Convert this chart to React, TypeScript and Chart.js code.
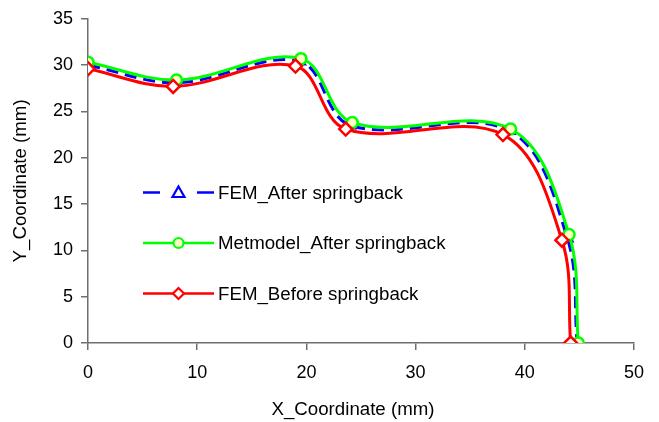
import React, { useEffect, useRef } from "react";
import { Chart, registerables } from "chart.js";

Chart.register(...registerables);

// Data
const xFemAfter = [0, 8.1, 19.4, 24.0, 38.6, 43.9, 44.8];
const yFemAfter = [30.0, 28.1, 30.4, 23.5, 22.9, 11.3, 0];

const xMetmodel = [0, 8.1, 19.5, 24.2, 38.7, 44.05, 44.9];
const yMetmodel = [30.3, 28.4, 30.7, 23.8, 23.1, 11.7, 0];

const xFemBefore = [0, 7.8, 19.0, 23.6, 38.0, 43.4, 44.2];
const yFemBefore = [29.6, 27.7, 29.9, 23.1, 22.5, 11.1, 0];

const seriesNames = ["FEM_After springback", "Metmodel_After springback", "FEM_Before springback"];
const xTitle = "X_Coordinate (mm)";
const yTitle = "Y_Coordinate (mm)";

const FONT = "Liberation Sans, Arial, Helvetica, sans-serif";
const TENSION = 0.36;

const zip = (xs: number[], ys: number[]) => xs.map((x, i) => ({ x, y: ys[i] }));

const overlayPlugin = {
  id: "overlay",
  afterDraw(chart: any) {
    const ctx = chart.ctx as CanvasRenderingContext2D;
    const area = chart.chartArea;
    ctx.save();
    ctx.fillStyle = "#000";
    ctx.font = `18.7px ${FONT}`;
    // axis titles
    ctx.textAlign = "center";
    ctx.textBaseline = "middle";
    ctx.fillText(xTitle, (area.left + area.right) / 2 - 8, 410);
    ctx.save();
    ctx.translate(21, (area.top + area.bottom) / 2);
    ctx.rotate(-Math.PI / 2);
    ctx.fillText(yTitle, 0, 0);
    ctx.restore();

    // legend
    const items = [
      { y: 192.5, color: "#0000ff", dash: [12, 7], shape: "tri", fill: "#ffffff" },
      { y: 243, color: "#00ff00", dash: [], shape: "circle", fill: "#ffffc8" },
      { y: 293.5, color: "#ff0000", dash: [], shape: "diamond", fill: "#ffffff" },
    ];
    const x0 = 143, x1 = 214, xm = 178.5;
    items.forEach((it, i) => {
      ctx.strokeStyle = it.color;
      ctx.lineWidth = 2.5;
      ctx.setLineDash([]);
      if (it.dash.length) {
        ctx.beginPath();
        ctx.moveTo(x0, it.y);
        ctx.lineTo(x0 + 17, it.y);
        ctx.moveTo(x1 - 17, it.y);
        ctx.lineTo(x1, it.y);
        ctx.stroke();
      } else {
        ctx.beginPath();
        ctx.moveTo(x0, it.y);
        ctx.lineTo(x1, it.y);
        ctx.stroke();
      }
      ctx.fillStyle = it.fill;
      ctx.lineWidth = 2.2;
      ctx.beginPath();
      if (it.shape === "circle") {
        ctx.arc(xm, it.y, 5, 0, Math.PI * 2);
      } else if (it.shape === "diamond") {
        ctx.moveTo(xm, it.y - 5.5);
        ctx.lineTo(xm + 5.5, it.y);
        ctx.lineTo(xm, it.y + 5.5);
        ctx.lineTo(xm - 5.5, it.y);
        ctx.closePath();
      } else {
        ctx.moveTo(xm, it.y - 6);
        ctx.lineTo(xm + 6, it.y + 4.5);
        ctx.lineTo(xm - 6, it.y + 4.5);
        ctx.closePath();
      }
      ctx.fill();
      ctx.stroke();
      ctx.fillStyle = "#000";
      ctx.textAlign = "left";
      ctx.textBaseline = "middle";
      ctx.font = `18.7px ${FONT}`;
      ctx.fillText(seriesNames[i], 218, it.y + 1);
    });
    ctx.restore();
  },
};

export default function App() {
  const ref = useRef<HTMLCanvasElement | null>(null);
  useEffect(() => {
    document.body.style.margin = "0";
    if (!ref.current) return;
    const axisColor = "#6e6e6e";
    const chart = new Chart(ref.current, {
      type: "scatter",
      data: {
        datasets: [
          {
            label: seriesNames[0],
            data: zip(xFemAfter, yFemAfter),
            showLine: true,
            borderColor: "#0000ff",
            borderWidth: 3,
            borderDash: [12, 7],
            tension: TENSION,
            pointStyle: "triangle",
            pointRadius: 6,
            pointBorderWidth: 2.2,
            pointBorderColor: "#0000ff",
            pointBackgroundColor: "#ffffff",
            order: 3,
          },
          {
            label: seriesNames[1],
            data: zip(xMetmodel, yMetmodel),
            showLine: true,
            borderColor: "#00ff00",
            borderWidth: 3,
            tension: TENSION,
            pointStyle: "circle",
            pointRadius: 5.5,
            pointBorderWidth: 2.5,
            pointBorderColor: "#00ff00",
            pointBackgroundColor: "#ffffc8",
            order: 2,
          },
          {
            label: seriesNames[2],
            data: zip(xFemBefore, yFemBefore),
            showLine: true,
            borderColor: "#ff0000",
            borderWidth: 3,
            tension: TENSION,
            pointStyle: "rectRot",
            pointRadius: 6.5,
            pointBorderWidth: 2.5,
            pointBorderColor: "#ff0000",
            pointBackgroundColor: "#ffffff",
            order: 1,
          },
        ],
      },
      options: {
        responsive: false,
        animation: false,
        layout: { padding: { left: 0, right: 25, top: 16.5, bottom: 0 } },
        plugins: {
          legend: { display: false },
          tooltip: { enabled: false },
        },
        scales: {
          x: {
            type: "linear",
            min: 0,
            max: 50,
            ticks: {
              stepSize: 10,
              color: "#000",
              font: { family: FONT, size: 18 },
              padding: 12,
            },
            grid: {
              drawOnChartArea: false,
              drawTicks: true,
              tickLength: 7,
              tickColor: axisColor,
              lineWidth: 1.5,
            },
            border: { color: axisColor, width: 1.5 },
            afterFit: (s: any) => {
              s.height = 79;
            },
          },
          y: {
            type: "linear",
            min: 0,
            max: 35,
            ticks: {
              stepSize: 5,
              color: "#000",
              font: { family: FONT, size: 18 },
              padding: 8,
            },
            grid: {
              drawOnChartArea: false,
              drawTicks: true,
              tickLength: 7,
              tickColor: axisColor,
              lineWidth: 1.5,
            },
            border: { color: axisColor, width: 1.5 },
            afterFit: (s: any) => {
              s.width = 88;
            },
          },
        },
      },
      plugins: [overlayPlugin],
    });
    return () => chart.destroy();
  }, []);
  return (
    <div style={{ width: 659, height: 422 }}>
      <canvas ref={ref} width={659} height={422} style={{ display: "block" }} />
    </div>
  );
}
